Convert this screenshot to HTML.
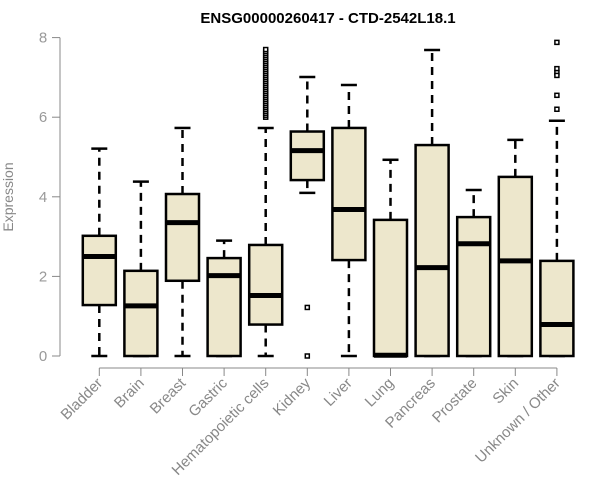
<!DOCTYPE html>
<html><head><meta charset="utf-8"><style>
body{margin:0;background:#fff;}
svg{display:block;font-family:"Liberation Sans",Arial,sans-serif;}
</style></head><body>
<svg id="chart" width="600" height="500">
<text x="328" y="23" text-anchor="middle" font-weight="bold" font-size="15" fill="#000">ENSG00000260417 - CTD-2542L18.1</text>
<text transform="translate(13,197) rotate(-90)" text-anchor="middle" font-size="14" fill="#888">Expression</text>
<g id="yaxis"></g>
<g id="xaxis"></g>
<g id="boxes"></g>
</svg>
<script>
const categories=["Bladder","Brain","Breast","Gastric","Hematopoietic cells","Kidney","Liver","Lung","Pancreas","Prostate","Skin","Unknown / Other"];
const whiskerLow=[0,0,0,0,0,4.1,0,0,0,0,0,0];
const q1=[1.28,0,1.89,0,0.79,4.42,2.41,0,0,0,0,0];
const median=[2.5,1.26,3.35,2.02,1.52,5.16,3.68,0.02,2.22,2.82,2.39,0.79];
const q3=[3.02,2.14,4.07,2.46,2.79,5.64,5.73,3.42,5.3,3.49,4.5,2.39];
const whiskerHigh=[5.21,4.38,5.73,2.9,5.73,7.01,6.81,4.93,7.69,4.17,5.43,5.91];
const outliers=[[],[],[],[],[6.0,6.05,6.1,6.15,6.2,6.25,6.3,6.35,6.4,6.45,6.5,6.55,6.6,6.65,6.7,6.75,6.8,6.85,6.9,6.95,7.0,7.05,7.1,7.15,7.2,7.25,7.3,7.35,7.4,7.45,7.5,7.55,7.6,7.65,7.7],[1.22,0],[],[],[],[],[],[7.88,7.22,7.12,7.05,6.55,6.2]];
const yTicks=[0,2,4,6,8];

const NS="http://www.w3.org/2000/svg";
const Y=v=>356-v*39.8;
const X=i=>99.3+i*41.6;
function mk(tag,attrs,parent){const e=document.createElementNS(NS,tag);for(const k in attrs)e.setAttribute(k,attrs[k]);parent.appendChild(e);return e;}
const ya=document.getElementById('yaxis'),xa=document.getElementById('xaxis'),bx=document.getElementById('boxes');
mk('line',{x1:60,x2:60,y1:Y(0),y2:Y(8),stroke:'#888'},ya);
yTicks.forEach(t=>{
  const l=mk('line',{x1:52,x2:60,y1:Y(t),y2:Y(t),stroke:'#888'},ya);
  
  
  const tx=mk('text',{x:43,y:Y(t)+5,'text-anchor':'middle','font-size':15,fill:'#999'},ya);
  tx.textContent=t;
  
  
});
mk('line',{x1:X(0),x2:X(categories.length-1),y1:368,y2:368,stroke:'#888'},xa);
categories.forEach((c,i)=>{
  const cx=X(i);
  const l=mk('line',{x1:cx,x2:cx,y1:368,y2:376,stroke:'#888'},xa);
  
  
  const tx=mk('text',{transform:`translate(${cx+4},${384}) rotate(-45)`,'text-anchor':'end','font-size':15,fill:'#888'},xa);
  tx.textContent=c;
  
  
  const g=mk('g',{},bx);
  
  
  mk('line',{x1:cx,x2:cx,y1:Y(q3[i]),y2:Y(whiskerHigh[i]),stroke:'#000','stroke-width':2.5,'stroke-dasharray':'8,6'},g);
  mk('line',{x1:cx,x2:cx,y1:Y(q1[i]),y2:Y(whiskerLow[i]),stroke:'#000','stroke-width':2.5,'stroke-dasharray':'8,6'},g);
  mk('line',{x1:cx-8,x2:cx+8,y1:Y(whiskerHigh[i]),y2:Y(whiskerHigh[i]),stroke:'#000','stroke-width':2.5},g);
  mk('line',{x1:cx-8,x2:cx+8,y1:Y(whiskerLow[i]),y2:Y(whiskerLow[i]),stroke:'#000','stroke-width':2.5},g);
  mk('rect',{x:cx-16.5,y:Y(q3[i]),width:33,height:Math.max(Y(q1[i])-Y(q3[i]),0.5),fill:'#ede7cc',stroke:'#000','stroke-width':2.5},g);
  mk('line',{x1:cx-16.5,x2:cx+16.5,y1:Y(median[i]),y2:Y(median[i]),stroke:'#000','stroke-width':5},g);
  outliers[i].forEach(v=>{
    const o=mk('rect',{x:cx-2,y:Y(v)-2,width:4,height:4,fill:'#fff',stroke:'#000','stroke-width':1.5},g);
    
    
  });
});
</script>
</body></html>
